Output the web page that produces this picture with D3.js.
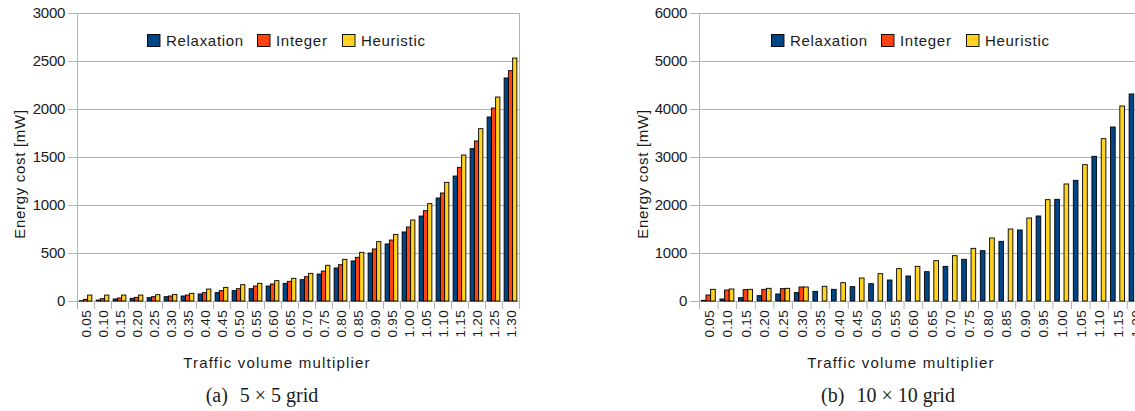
<!DOCTYPE html>
<html>
<head>
<meta charset="utf-8">
<script src="https://cdn.jsdelivr.net/npm/d3@7"></script>
<style>
  html, body { margin: 0; padding: 0; background: #fff; overflow: hidden; }
  svg { display: block; }
  text { font-family: "Liberation Sans", Arial, sans-serif; fill: #1a1a1a; }
</style>
</head>
<body>
<svg id="chart" width="1135" height="411"></svg>
<script>
// ---------- data ----------
const series = ["Relaxation", "Integer", "Heuristic"];
const seriesColors = ["#004586", "#ff420e", "#ffd320"];

const categoriesA = ["0.05","0.10","0.15","0.20","0.25","0.30","0.35","0.40","0.45","0.50","0.55","0.60","0.65",
                     "0.70","0.75","0.80","0.85","0.90","0.95","1.00","1.05","1.10","1.15","1.20","1.25","1.30"];
const relaxationA = [3,10,21,28,35,45,52,73,87,108,128,156,184,222,281,344,417,500,594,719,885,1073,1302,1587,1917,2323];
const integerA    = [17,24,31,38,45,52,62,87,108,128,156,177,205,253,312,378,455,542,635,771,941,1125,1392,1667,2010,2399];
const heuristicA  = [62,62,62,62,66,69,80,125,142,170,184,212,236,288,372,434,507,618,694,844,1014,1236,1521,1795,2125,2531];
const yTicksA = [0,500,1000,1500,2000,2500,3000];

const categoriesB = ["0.05","0.10","0.15","0.20","0.25","0.30","0.35","0.40","0.45","0.50","0.55","0.60","0.65",
                     "0.70","0.75","0.80","0.85","0.90","0.95","1.00","1.05","1.10","1.15","1.20"];
const relaxationB = [14,42,69,111,146,174,201,243,299,361,437,521,611,722,868,1049,1243,1479,1771,2118,2514,3014,3625,4313];
const integerB    = [125,229,236,243,257,292,null,null,null,null,null,null,null,null,null,null,null,null,null,null,null,null,null,null];
const heuristicB  = [243,250,243,264,264,292,306,382,479,569,674,722,840,944,1097,1313,1500,1729,2111,2438,2840,3382,4063,null];
const yTicksB = [0,1000,2000,3000,4000,5000,6000];

const captionA = ["(a)", "5 × 5 grid"];
const captionB = ["(b)", "10 × 10 grid"];

// ---------- drawing ----------
const svg = d3.select("#chart");

function drawChart(cfg) {
  const g = svg.append("g");
  const top = 13, bottom = 301;
  const n = cfg.categories.length;
  const x = d3.scaleBand().domain(cfg.categories)
      .range([cfg.left, cfg.left + cfg.step * n])
      .paddingInner(0.25).paddingOuter(0.125);
  const xs = d3.scaleBand().domain(series).range([0, x.bandwidth()]);
  const y = d3.scaleLinear().domain([0, cfg.yMax]).range([bottom, top]);
  const right = cfg.left + cfg.step * n;

  // gridlines + y ticks
  g.append("g").selectAll("line").data(cfg.yTicks).join("line")
    .attr("x1", cfg.left - 9).attr("x2", right)
    .attr("y1", d => y(d) + 0.5).attr("y2", d => y(d) + 0.5)
    .attr("stroke", "#b3b3b3").attr("stroke-width", 1);

  // frame
  g.append("rect").attr("x", cfg.left + 0.5).attr("y", top + 0.5)
    .attr("width", right - cfg.left).attr("height", bottom - top)
    .attr("fill", "none").attr("stroke", "#b3b3b3");

  // x category boundary ticks
  const bounds = d3.range(n + 1).map(i => cfg.left + i * x.step());
  g.append("g").selectAll("line").data(bounds).join("line")
    .attr("x1", d => d + 0.5).attr("x2", d => d + 0.5)
    .attr("y1", bottom).attr("y2", bottom + 8)
    .attr("stroke", "#b3b3b3");

  // y tick labels
  g.append("g").selectAll("text").data(cfg.yTicks).join("text")
    .attr("x", cfg.left - 12).attr("y", d => y(d)).attr("dy", "0.36em")
    .attr("text-anchor", "end").attr("font-size", 15)
    .style("letter-spacing", "-0.3px")
    .text(d => d);

  // bars
  const rows = cfg.categories.map((c, i) => ({
    c, vals: [cfg.values[0][i], cfg.values[1][i], cfg.values[2][i]]
  }));
  const grp = g.append("g").selectAll("g").data(rows).join("g")
    .attr("transform", d => `translate(${x(d.c)},0)`);
  grp.selectAll("rect")
    .data(d => d.vals.map((v, k) => ({ k, v })).filter(e => e.v !== null))
    .join("rect")
    .attr("x", e => xs(series[e.k]))
    .attr("width", xs.bandwidth())
    .attr("y", e => y(e.v))
    .attr("height", e => Math.max(0, bottom - y(e.v)))
    .attr("fill", e => seriesColors[e.k])
    .attr("stroke", "#000").attr("stroke-width", 0.9);

  // x tick labels
  g.append("g").selectAll("text").data(cfg.categories).join("text")
    .attr("transform", d => `translate(${x(d) + x.bandwidth() / 2 + 0.5},${bottom + 9}) rotate(-90)`)
    .attr("dy", "0.36em")
    .attr("text-anchor", "end").attr("font-size", 13.5)
    .style("letter-spacing", "0.3px")
    .text(d => d);

  // axis titles
  g.append("text")
    .attr("transform", `translate(${cfg.yTitleX},174) rotate(-90)`)
    .attr("text-anchor", "middle").attr("font-size", 15)
    .style("letter-spacing", "0.7px")
    .text("Energy cost [mW]");
  g.append("text")
    .attr("x", cfg.xTitleX).attr("y", 368)
    .attr("text-anchor", "middle").attr("font-size", 15)
    .style("letter-spacing", "1.2px")
    .text("Traffic volume multiplier");

  // legend
  const leg = g.append("g").attr("transform", `translate(${cfg.legendX},34)`);
  const legOffsets = [0, 110, 195];
  series.forEach((s, k) => {
    const lg = leg.append("g").attr("transform", `translate(${legOffsets[k]},0)`);
    lg.append("rect").attr("x", 0.5).attr("y", 0.5).attr("width", 12.5).attr("height", 12)
      .attr("fill", seriesColors[k]).attr("stroke", "#000").attr("stroke-width", 0.9);
    lg.append("text").attr("x", 19).attr("y", 12).attr("font-size", 15)
      .style("letter-spacing", "0.7px").text(s);
  });

  // caption
  const cap = g.append("text")
    .attr("x", cfg.captionX).attr("y", 402)
    .attr("text-anchor", "middle")
    .style("font-family", "'Liberation Serif', 'Times New Roman', serif")
    .attr("font-size", 20);
  cap.append("tspan").text(cfg.caption[0]);
  cap.append("tspan").attr("dx", 12).text(cfg.caption[1]);
}

drawChart({
  categories: categoriesA, values: [relaxationA, integerA, heuristicA],
  yMax: 3000, yTicks: yTicksA, left: 77, step: 17,
  yTitleX: 25, xTitleX: 277, legendX: 147, captionX: 262, caption: captionA
});
drawChart({
  categories: categoriesB, values: [relaxationB, integerB, heuristicB],
  yMax: 6000, yTicks: yTicksB, left: 699, step: 18.6,
  yTitleX: 648, xTitleX: 901, legendX: 771, captionX: 888, caption: captionB
});
</script>
</body>
</html>
